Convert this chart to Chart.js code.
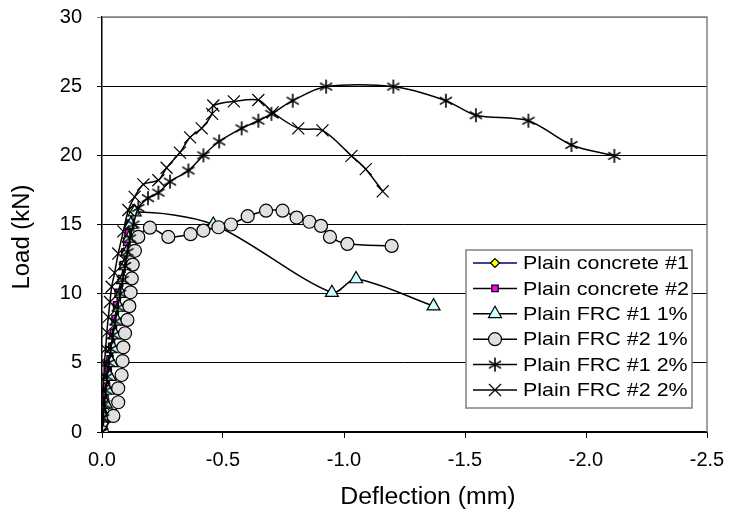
<!DOCTYPE html>
<html>
<head>
<meta charset="utf-8">
<script src="https://cdn.jsdelivr.net/npm/chart.js@4/dist/chart.umd.min.js"></script>
<style>
  html, body { margin: 0; padding: 0; background: #fff; }
</style>
</head>
<body>
<canvas id="chart" width="730" height="519"></canvas>
<script>
// Load-deflection data (deflection plotted as negative mm, load in kN)
const seriesNames = ['Plain concrete #1', 'Plain concrete #2', 'Plain FRC #1 1%',
                     'Plain FRC #2 1%', 'Plain FRC #1 2%', 'Plain FRC #2 2%'];

const pc1X = [0, -0.008, -0.016, -0.022, -0.029, -0.037, -0.044, -0.052, -0.06, -0.067, -0.075, -0.083, -0.09, -0.098, -0.105, -0.113, -0.127];
const pc1Y = [0, 1.1, 2.0, 3.1, 4.0, 5.0, 6.1, 7.0, 8.0, 9.1, 10.0, 11.0, 12.1, 13.0, 14.0, 15.0, 16.0];

const pc2X = [0, -0.006, -0.012, -0.019, -0.026, -0.033, -0.04, -0.047, -0.054, -0.06, -0.067, -0.081, -0.088, -0.095, -0.102, -0.109, -0.116];
const pc2Y = [0, 1.3, 2.3, 3.3, 4.4, 5.3, 6.2, 7.2, 8.2, 9.2, 10.1, 11.1, 12.1, 13.0, 13.7, 14.4, 15.1];

const frc11X = [0, -0.009, -0.016, -0.023, -0.031, -0.039, -0.047, -0.055, -0.063, -0.071, -0.079, -0.087, -0.095, -0.103, -0.111, -0.119, -0.135, -0.46, -0.95, -1.05, -1.37];
const frc11Y = [0, 1.0, 2.0, 3.0, 4.0, 5.0, 6.0, 7.0, 8.0, 9.0, 10.0, 11.0, 12.0, 13.0, 14.0, 15.0, 15.9, 15.0, 10.07, 11.06, 9.1];

const frc21X = [0, -0.047, -0.067, -0.067, -0.081, -0.085, -0.088, -0.095, -0.105, -0.113, -0.118, -0.123, -0.127, -0.136, -0.15, -0.198, -0.274, -0.366, -0.419, -0.481, -0.533, -0.602, -0.678, -0.746, -0.804, -0.857, -0.905, -0.942, -1.014, -1.197];
const frc21Y = [0, 1.16, 2.15, 3.16, 4.12, 5.13, 6.12, 7.14, 8.1, 9.1, 10.1, 11.1, 12.1, 13.1, 14.1, 14.77, 14.1, 14.3, 14.56, 14.8, 15.0, 15.6, 16.0, 16.0, 15.5, 15.2, 14.9, 14.1, 13.6, 13.45];

const frc12X = [0, -0.005, -0.01, -0.015, -0.021, -0.028, -0.036, -0.045, -0.055, -0.065, -0.075, -0.085, -0.095, -0.105, -0.115, -0.13, -0.15, -0.19, -0.233, -0.281, -0.357, -0.419, -0.484, -0.577, -0.646, -0.7, -0.788, -0.926, -1.204, -1.421, -1.545, -1.762, -1.94, -2.117];
const frc12Y = [0, 1.0, 2.0, 3.0, 4.0, 5.0, 6.0, 7.0, 8.0, 9.0, 10.0, 11.0, 12.0, 13.0, 14.0, 15.0, 16.2, 16.9, 17.3, 18.1, 18.9, 20.0, 21.0, 21.95, 22.5, 23.0, 23.95, 24.97, 24.97, 23.95, 22.9, 22.5, 20.75, 19.96];

const frc22X = [0, -0.003, -0.006, -0.004, -0.008, -0.01, -0.015, -0.02, -0.026, -0.033, -0.04, -0.052, -0.067, -0.088, -0.109, -0.135, -0.171, -0.233, -0.267, -0.322, -0.364, -0.412, -0.455, -0.46, -0.545, -0.646, -0.705, -0.811, -0.911, -1.031, -1.09, -1.16];
const frc22Y = [0, 1.0, 2.0, 3.0, 4.0, 5.0, 6.0, 7.2, 8.3, 9.4, 10.5, 11.5, 12.9, 14.5, 16.05, 17.0, 17.9, 18.2, 19.1, 20.2, 21.3, 21.95, 23.0, 23.6, 23.9, 24.0, 23.1, 21.95, 21.8, 19.96, 19.0, 17.4];

const xTicks = [0, -0.5, -1.0, -1.5, -2.0, -2.5];
const yTicks = [0, 5, 10, 15, 20, 25, 30];
const xTitle = 'Deflection (mm)';
const yTitle = 'Load (kN)';

const FONT = 'Arial, "Liberation Sans", sans-serif';

// Excel style asterisk marker: vertical bar plus an X
function makeAsterisk(size) {
  const c = document.createElement('canvas');
  c.width = size; c.height = size;
  const g = c.getContext('2d');
  const m = size / 2, r = size / 2 - 1, d = r * 0.87;
  g.strokeStyle = '#000';
  g.lineWidth = 1.6;
  g.beginPath();
  g.moveTo(m, m - r); g.lineTo(m, m + r);
  g.moveTo(m - d, m - d * 0.6); g.lineTo(m + d, m + d * 0.6);
  g.moveTo(m - d, m + d * 0.6); g.lineTo(m + d, m - d * 0.6);
  g.stroke();
  return c;
}
const asterisk = makeAsterisk(16);

const pts = (xs, ys) => xs.map((x, i) => ({ x: x, y: ys[i] }));

const styles = [
  { line: '#000080', fill: '#FFFF00', shape: 'rectRot', r: 4.5 },
  { line: '#000000', fill: '#FF00FF', shape: 'rect', r: 4.5 },
  { line: '#000000', fill: '#CCFFFF', shape: 'triangle', r: 7.5 },
  { line: '#000000', fill: '#E0E0E0', shape: 'circle', r: 6.5 },
  { line: '#000000', fill: '#000000', shape: asterisk, r: 7 },
  { line: '#000000', fill: '#000000', shape: 'crossRot', r: 8.5 }
];
const xs = [pc1X, pc2X, frc11X, frc21X, frc12X, frc22X];
const ys = [pc1Y, pc2Y, frc11Y, frc21Y, frc12Y, frc22Y];

const datasets = seriesNames.map((name, i) => ({
  label: name,
  data: pts(xs[i], ys[i]),
  showLine: true,
  borderColor: styles[i].line,
  borderWidth: 1.5,
  tension: 0.3,
  pointStyle: styles[i].shape,
  pointRadius: styles[i].r,
  pointBackgroundColor: styles[i].fill,
  pointBorderColor: '#000',
  pointBorderWidth: 1.2,
  order: seriesNames.length - i   // later series on top, like the original
}));

// draw text with a small horizontal stretch (the original fonts run wide)
function wideText(ctx, text, x, y, size, sx, rot) {
  ctx.save();
  ctx.translate(x, y);
  if (rot) ctx.rotate(rot);
  ctx.scale(sx, 1);
  ctx.font = size + 'px ' + FONT;
  ctx.fillStyle = '#000';
  ctx.textBaseline = 'middle';
  ctx.fillText(text, 0, 0);
  ctx.restore();
}

// grey plot border on top / right
const plotFrame = {
  id: 'plotFrame',
  beforeDatasetsDraw(chart) {
    const a = chart.chartArea, ctx = chart.ctx;
    ctx.save();
    ctx.strokeStyle = '#808080';
    ctx.lineWidth = 1.5;
    ctx.beginPath();
    ctx.moveTo(a.left, a.top);
    ctx.lineTo(a.right, a.top);
    ctx.lineTo(a.right, a.bottom);
    ctx.stroke();
    ctx.restore();
  }
};

// axis titles, placed where the original has them
const axisTitles = {
  id: 'axisTitles',
  afterDraw(chart) {
    const ctx = chart.ctx;
    ctx.save();
    ctx.textAlign = 'center';
    wideText(ctx, xTitle, 428, 498, 23, 1.08, 0);
    wideText(ctx, yTitle, 23, 237, 23, 1.04, -Math.PI / 2);
    ctx.restore();
  }
};

// legend box inside the plot, lower right
const boxLegend = {
  id: 'boxLegend',
  afterDraw(chart) {
    const a = chart.chartArea, ctx = chart.ctx;
    const w = 226, rowH = 25.4, h = 158;
    const x0 = a.right - 15 - w, y0 = a.bottom - 24 - h;
    ctx.save();
    ctx.fillStyle = '#fff';
    ctx.fillRect(x0, y0, w, h);
    ctx.strokeStyle = '#808080';
    ctx.lineWidth = 1.5;
    ctx.strokeRect(x0, y0, w, h);
    chart.data.datasets.forEach((ds, i) => {
      const cy = y0 + 13 + rowH * i;
      ctx.strokeStyle = ds.borderColor;
      ctx.lineWidth = 1.5;
      ctx.beginPath();
      ctx.moveTo(x0 + 7, cy);
      ctx.lineTo(x0 + 51, cy);
      ctx.stroke();
      ctx.fillStyle = ds.pointBackgroundColor;
      ctx.strokeStyle = '#000';
      ctx.lineWidth = 1.2;
      Chart.helpers.drawPoint(ctx, { pointStyle: ds.pointStyle, radius: ds.pointRadius, rotation: 0, borderWidth: 1.2 }, x0 + 29, cy);
      ctx.textAlign = 'left';
      wideText(ctx, ds.label, x0 + 57, cy + 1, 19, 1.13, 0);
    });
    ctx.restore();
  }
};

// fixed box sizes; no extra overhang padding so the plot area matches the original
const noOverhang = s => { s.paddingTop = 0; s.paddingBottom = 0; s.paddingLeft = 0; s.paddingRight = 0; };

new Chart(document.getElementById('chart'), {
  type: 'scatter',
  data: { datasets: datasets },
  plugins: [plotFrame, axisTitles, boxLegend],
  options: {
    responsive: false,
    animation: false,
    layout: { padding: { left: 0, right: 23, top: 17, bottom: 0 } },
    plugins: { legend: { display: false }, tooltip: { enabled: false } },
    scales: {
      x: {
        type: 'linear', reverse: true, min: -2.5, max: 0,
        afterBuildTicks: s => { s.ticks = xTicks.map(v => ({ value: v })); },
        afterFit: s => { s.height = 519 - 432; noOverhang(s); },
        ticks: { color: '#000', font: { family: FONT, size: 20 }, padding: 10,
                 callback: v => Number(v).toFixed(1) },
        grid: { drawOnChartArea: false, drawTicks: true, tickLength: 6, color: '#000' },
        border: { color: '#000', width: 1.5 }
      },
      y: {
        type: 'linear', min: 0, max: 30,
        afterBuildTicks: s => { s.ticks = yTicks.map(v => ({ value: v })); },
        afterFit: s => { s.width = 102; noOverhang(s); },
        ticks: { color: '#000', font: { family: FONT, size: 20 }, padding: 15 },
        grid: { drawTicks: true, tickLength: 5,
                color: c => (c.tick && c.tick.value === 30) ? '#808080' : '#000',
                lineWidth: 1 },
        border: { color: '#000', width: 1.5 }
      }
    }
  }
});
</script>
</body>
</html>
